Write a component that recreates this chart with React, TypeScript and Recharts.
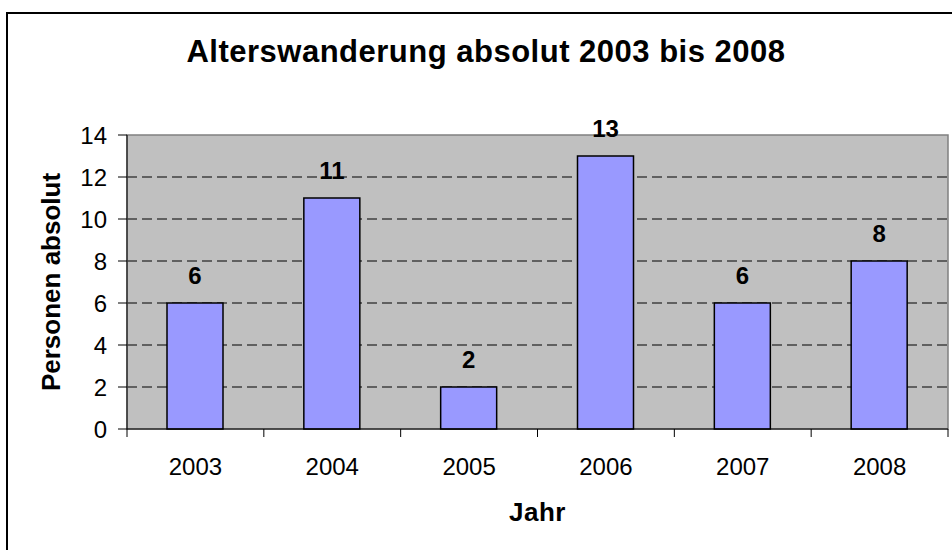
import { BarChart, Bar, XAxis, YAxis, CartesianGrid, ReferenceArea, LabelList } from 'recharts';

const years = ['2003', '2004', '2005', '2006', '2007', '2008'];
const persons = [6, 11, 2, 13, 6, 8];
const yTicks = [0, 2, 4, 6, 8, 10, 12, 14];
const gridValues = [2, 4, 6, 8, 10, 12];

const data = years.map((year, i) => ({ year, value: persons[i] }));

const FONT = '"Liberation Sans", Arial, sans-serif';

function YearTick(props: any) {
  const { x, y, payload, index, width, visibleTicksCount } = props;
  const band = width / (visibleTicksCount || years.length);
  const left = x - band / 2;
  const right = x + band / 2;
  return (
    <g>
      <line x1={left} x2={left} y1={y} y2={y + 8} stroke="#000" strokeWidth={1} />
      {index === years.length - 1 && (
        <line x1={right} x2={right} y1={y} y2={y + 8} stroke="#000" strokeWidth={1} />
      )}
      <text x={x} y={y + 46} textAnchor="middle" fontSize={24} fontFamily={FONT} fill="#000">
        {payload.value}
      </text>
    </g>
  );
}

export default function App() {
  return (
    <div
      style={{
        position: 'absolute',
        left: 0,
        top: 0,
        width: 952,
        height: 550,
        overflow: 'hidden',
        background: '#fff',
      }}
    >
      <div
        style={{
          position: 'absolute',
          left: 6,
          top: 12,
          width: 1000,
          height: 600,
          border: '2px solid #000',
        }}
      />
      <div
        style={{
          position: 'absolute',
          left: 486,
          top: 36,
          transform: 'translateX(-50%)',
          whiteSpace: 'nowrap',
          fontFamily: FONT,
          fontWeight: 'bold',
          fontSize: 31,
          letterSpacing: 0.5,
          lineHeight: '31px',
          color: '#000',
        }}
      >
        Alterswanderung absolut 2003 bis 2008
      </div>
      <div style={{ position: 'absolute', left: 0, top: 0 }}>
        <BarChart
          width={952}
          height={550}
          data={data}
          margin={{ top: 135, right: 4, left: 0, bottom: 0 }}
        >
          <CartesianGrid
            vertical={false}
            horizontalValues={gridValues}
            stroke="#000"
            strokeDasharray="10 5"
            fill="#C0C0C0"
          />
          <ReferenceArea y1={0} y2={14} fill="none" stroke="#808080" strokeWidth={1.5} />
          <XAxis
            dataKey="year"
            height={121}
            tickLine={false}
            tickSize={0}
            tickMargin={0}
            interval={0}
            axisLine={{ stroke: '#000', strokeWidth: 1 }}
            tick={<YearTick />}
            label={{
              content: (p: any) => {
                const vb = p.viewBox;
                return (
                  <text
                    x={vb.x + vb.width / 2}
                    y={vb.y + 92}
                    textAnchor="middle"
                    fontSize={26}
                    fontWeight="bold"
                    fontFamily={FONT}
                    letterSpacing={0.5}
                    fill="#000"
                  >
                    Jahr
                  </text>
                );
              },
            }}
          />
          <YAxis
            width={127}
            domain={[0, 14]}
            ticks={yTicks}
            interval={0}
            tickSize={9}
            tickMargin={11}
            axisLine={{ stroke: '#000', strokeWidth: 1 }}
            tickLine={{ stroke: '#000', strokeWidth: 1 }}
            tick={{ fill: '#000', fontSize: 24, fontFamily: FONT }}
            label={{
              content: (p: any) => {
                const vb = p.viewBox;
                const cx = vb.x + 60;
                const cy = vb.y + vb.height / 2;
                return (
                  <text
                    x={cx}
                    y={cy}
                    transform={`rotate(-90 ${cx} ${cy})`}
                    textAnchor="middle"
                    fontSize={26}
                    fontWeight="bold"
                    fontFamily={FONT}
                    fill="#000"
                  >
                    Personen absolut
                  </text>
                );
              },
            }}
          />
          <Bar
            dataKey="value"
            fill="#9999FF"
            stroke="#000"
            strokeWidth={1.5}
            barSize={56}
            isAnimationActive={false}
          >
            <LabelList
              dataKey="value"
              position="top"
              offset={19}
              fill="#000"
              fontSize={24}
              fontWeight="bold"
              fontFamily={FONT}
            />
          </Bar>
        </BarChart>
      </div>
    </div>
  );
}
